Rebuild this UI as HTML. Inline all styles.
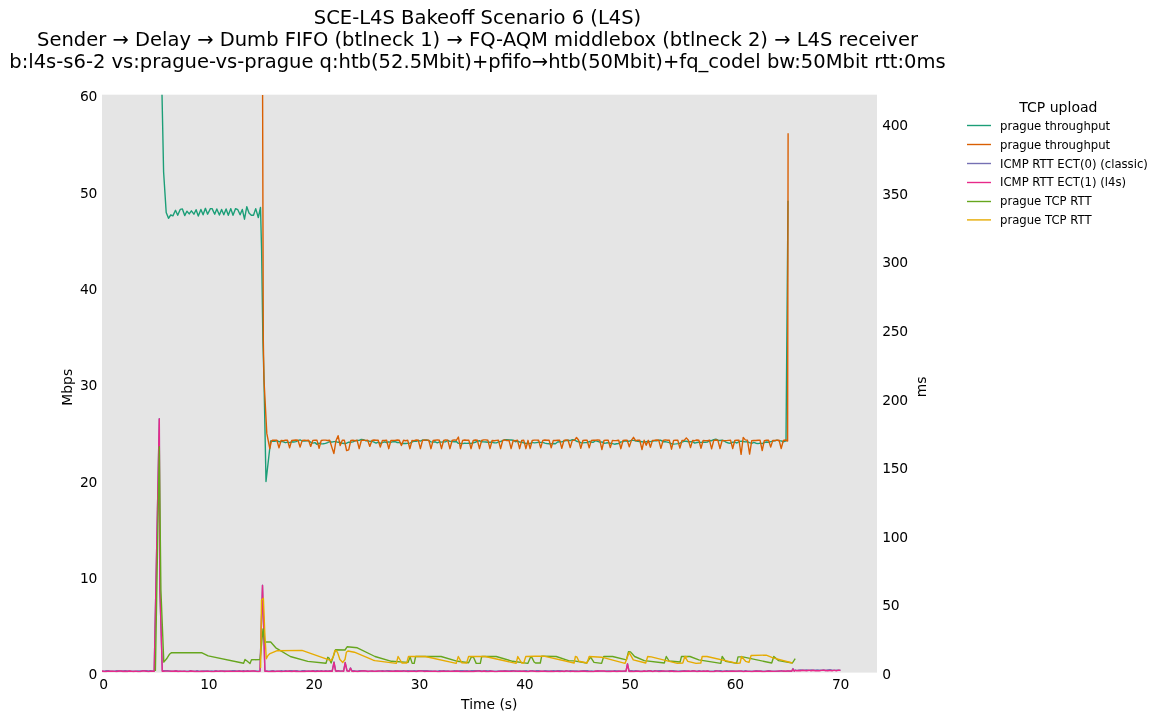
<!DOCTYPE html>
<html lang="en"><head><meta charset="utf-8"><title>SCE-L4S Bakeoff Scenario 6 (L4S)</title>
<style>
html,body{margin:0;padding:0;background:#fff;}
body{width:1162px;height:721px;overflow:hidden;}
svg{display:block;}
svg text{font-family:"DejaVu Sans","Liberation Sans",sans-serif;fill:#000;}
</style></head><body>
<svg width="1162" height="721" viewBox="0 0 1162 721">
<rect x="0" y="0" width="1162" height="721" fill="#ffffff"/>
<rect x="102.0" y="94.7" width="775.0" height="577.9" fill="#e5e5e5"/>
<clipPath id="c"><rect x="102.0" y="94.7" width="775.0" height="577.9"/></clipPath>
<g clip-path="url(#c)" fill="none" stroke-width="1.39" stroke-linejoin="round" stroke-linecap="butt">
<path stroke="#1b9e77" d="M162.0 94.0 L163.6 172.0 L166.2 212.5 L168.5 218.3 L170.7 215.0 L172.9 215.9 L175.5 210.3 L177.7 215.3 L180.2 209.4 L182.4 208.9 L184.7 215.6 L186.9 211.2 L189.2 213.9 L191.4 210.8 L193.9 214.2 L196.1 209.7 L198.3 216.1 L200.9 209.4 L203.1 214.8 L205.4 208.3 L207.6 214.2 L210.4 208.6 L212.1 208.6 L214.7 214.2 L216.8 208.9 L219.4 215.0 L221.6 209.4 L223.8 214.8 L226.1 208.9 L228.3 215.3 L230.8 208.6 L233.0 215.3 L235.6 208.6 L237.8 209.7 L240.1 214.8 L242.3 209.4 L244.5 219.2 L246.8 206.7 L249.0 213.1 L251.3 215.3 L253.5 215.3 L255.7 208.6 L258.3 217.5 L260.5 207.5 L261.6 250.0 L262.9 340.0 L264.0 380.0 L266.0 481.5 L270.6 441.0 L272.7 441.2 L274.8 441.3 L276.9 440.6 L279.0 441.7 L281.1 441.4 L283.3 441.9 L285.4 442.7 L287.5 442.1 L289.6 442.7 L291.7 441.8 L293.8 442.0 L295.9 441.6 L298.0 440.7 L300.1 439.9 L302.2 441.0 L304.4 441.0 L306.5 440.9 L308.6 440.9 L310.7 442.2 L312.8 443.1 L314.9 442.6 L317.0 444.4 L319.1 443.2 L321.2 443.9 L323.3 443.8 L325.5 443.4 L327.6 442.6 L329.7 441.5 L331.8 442.2 L333.9 441.6 L336.0 441.6 L338.1 442.3 L340.2 442.3 L342.3 443.3 L344.4 443.5 L346.6 443.2 L348.7 442.2 L350.8 442.2 L352.9 441.9 L355.0 440.9 L357.1 440.5 L359.2 440.4 L361.3 439.5 L363.4 439.7 L365.5 440.7 L367.7 440.7 L369.8 441.3 L371.9 441.4 L374.0 442.1 L376.1 443.1 L378.2 442.1 L380.3 443.4 L382.4 442.7 L384.5 441.8 L386.6 442.5 L388.8 441.8 L390.9 442.4 L393.0 441.6 L395.1 441.7 L397.2 442.5 L399.3 442.4 L401.4 443.7 L403.5 443.4 L405.6 443.5 L407.7 443.4 L409.9 443.1 L412.0 442.0 L414.1 441.2 L416.2 441.3 L418.3 440.5 L420.4 441.1 L422.5 440.0 L424.6 440.2 L426.7 440.0 L428.8 440.7 L431.0 441.9 L433.1 442.1 L435.2 441.8 L437.3 442.8 L439.4 441.9 L441.5 442.1 L443.6 441.9 L445.7 441.7 L447.8 440.4 L449.9 441.4 L452.1 441.5 L454.2 441.7 L456.3 441.5 L458.4 443.4 L460.5 443.4 L462.6 443.6 L464.7 443.3 L466.8 443.4 L468.9 443.1 L471.0 443.5 L473.2 442.8 L475.3 442.3 L477.4 441.1 L479.5 440.7 L481.6 441.8 L483.7 441.9 L485.8 442.0 L487.9 442.3 L490.0 442.2 L492.1 442.2 L494.3 442.7 L496.4 442.9 L498.5 441.9 L500.6 441.5 L502.7 440.7 L504.8 439.7 L506.9 439.8 L509.0 440.0 L511.1 440.0 L513.2 440.3 L515.4 441.8 L517.5 441.2 L519.6 442.0 L521.7 442.3 L523.8 442.8 L525.9 443.5 L528.0 443.4 L530.1 443.6 L532.2 442.4 L534.3 442.9 L536.5 442.6 L538.6 442.3 L540.7 442.4 L542.8 442.4 L544.9 443.1 L547.0 443.6 L549.1 443.7 L551.2 443.9 L553.3 443.5 L555.4 443.8 L557.6 442.0 L559.7 441.8 L561.8 441.9 L563.9 441.2 L566.0 440.6 L568.1 440.3 L570.2 440.6 L572.3 439.7 L574.4 439.9 L576.5 441.2 L578.7 441.7 L580.8 442.7 L582.9 442.9 L585.0 442.6 L587.1 442.6 L589.2 441.5 L591.3 442.2 L593.4 442.2 L595.5 440.6 L597.6 441.3 L599.8 442.1 L601.9 441.9 L604.0 443.2 L606.1 443.0 L608.2 442.7 L610.3 443.3 L612.4 443.6 L614.5 444.2 L616.6 443.7 L618.7 443.5 L620.9 441.9 L623.0 441.7 L625.1 440.8 L627.2 441.2 L629.3 441.2 L631.4 440.4 L633.5 440.4 L635.6 440.9 L637.7 441.3 L639.8 441.5 L642.0 441.7 L644.1 442.4 L646.2 441.7 L648.3 441.5 L650.4 441.6 L652.5 441.3 L654.6 440.7 L656.7 440.7 L658.8 440.3 L660.9 440.3 L663.1 441.7 L665.2 441.6 L667.3 442.1 L669.4 442.7 L671.5 443.8 L673.6 444.1 L675.7 443.9 L677.8 443.6 L679.9 443.2 L682.0 442.1 L684.2 441.3 L686.3 441.2 L688.4 441.7 L690.5 441.6 L692.6 441.7 L694.7 443.1 L696.8 442.5 L698.9 442.2 L701.0 442.4 L703.1 442.2 L705.3 442.2 L707.4 442.1 L709.5 440.5 L711.6 440.7 L713.7 439.6 L715.8 439.2 L717.9 440.2 L720.0 440.5 L722.1 440.1 L724.2 441.0 L726.4 442.4 L728.5 443.0 L730.6 443.2 L732.7 442.2 L734.8 442.2 L736.9 443.0 L739.0 441.7 L741.1 441.1 L743.2 441.5 L745.3 441.9 L747.5 441.8 L749.6 442.7 L751.7 443.3 L753.8 442.3 L755.9 443.2 L758.0 443.6 L760.1 443.1 L762.2 443.6 L764.3 442.5 L766.4 442.0 L768.6 442.3 L770.7 441.6 L772.8 441.1 L774.9 440.9 L777.0 440.2 L779.1 440.9 L781.2 440.9 L783.3 441.8 L785.4 441.0 L786.0 441.0 L788.0 200.7"/>
<path stroke="#d95f02" d="M262.6 95.0 L263.3 340.0 L264.0 380.0 L266.8 433.4 L269.8 448.7 L271.4 441.0 L272.7 440.2 L274.8 440.3 L276.9 440.3 L279.0 447.9 L281.1 440.4 L283.3 440.7 L285.4 440.3 L287.5 440.3 L289.6 447.9 L291.7 440.4 L293.8 440.2 L295.9 440.0 L298.0 440.3 L300.1 447.1 L302.2 440.4 L304.4 440.3 L306.5 440.5 L308.6 440.3 L310.7 446.4 L312.8 440.4 L314.9 440.3 L317.0 440.3 L319.1 448.4 L321.2 440.5 L323.3 440.1 L325.5 440.1 L327.6 440.5 L329.7 440.3 L331.8 447.1 L333.9 453.5 L336.0 440.7 L338.1 435.7 L340.2 445.6 L342.3 440.3 L344.4 440.3 L346.6 450.5 L348.7 449.9 L350.8 440.5 L352.9 440.3 L355.0 440.7 L357.1 440.3 L359.2 448.7 L361.3 440.5 L363.4 440.1 L365.5 440.4 L367.7 440.3 L369.8 446.4 L371.9 440.4 L374.0 440.0 L376.1 440.2 L378.2 440.3 L380.3 447.1 L382.4 440.4 L384.5 440.5 L386.6 440.3 L388.8 448.7 L390.9 440.5 L393.0 440.5 L395.1 440.4 L397.2 440.0 L399.3 440.3 L401.4 445.5 L403.5 440.3 L405.6 440.7 L407.7 440.3 L409.9 448.7 L412.0 440.5 L414.1 440.6 L416.2 440.0 L418.3 440.3 L420.4 448.7 L422.5 440.5 L424.6 440.0 L426.7 440.1 L428.8 440.3 L431.0 448.7 L433.1 440.5 L435.2 440.2 L437.3 439.9 L439.4 440.3 L441.5 448.7 L443.6 440.5 L445.7 439.9 L447.8 440.3 L449.9 448.7 L452.1 440.5 L454.2 439.9 L456.3 440.3 L458.4 437.0 L460.5 448.7 L462.6 440.5 L464.7 440.0 L466.8 440.2 L468.9 440.3 L471.0 448.7 L473.2 440.5 L475.3 440.0 L477.4 440.3 L479.5 448.7 L481.6 440.5 L483.7 439.9 L485.8 439.9 L487.9 440.3 L490.0 448.7 L492.1 440.5 L494.3 440.7 L496.4 440.4 L498.5 440.3 L500.6 448.7 L502.7 440.5 L504.8 439.9 L506.9 440.6 L509.0 440.3 L511.1 448.7 L513.2 440.5 L515.4 440.7 L517.5 440.3 L519.6 448.7 L521.7 440.5 L523.8 440.3 L525.9 448.7 L528.0 440.3 L530.1 448.7 L532.2 440.5 L534.3 440.1 L536.5 440.1 L538.6 440.3 L540.7 447.9 L542.8 440.4 L544.9 440.0 L547.0 440.2 L549.1 440.3 L551.2 447.9 L553.3 440.4 L555.4 440.5 L557.6 440.3 L559.7 440.3 L561.8 448.4 L563.9 440.5 L566.0 439.9 L568.1 440.3 L570.2 447.6 L572.3 440.4 L574.4 440.3 L576.5 437.5 L578.7 440.3 L580.8 448.4 L582.9 440.5 L585.0 440.2 L587.1 440.3 L589.2 447.9 L591.3 440.4 L593.4 440.2 L595.5 440.2 L597.6 439.9 L599.8 440.3 L601.9 449.5 L604.0 440.5 L606.1 440.1 L608.2 440.3 L610.3 447.6 L612.4 440.4 L614.5 440.6 L616.6 440.5 L618.7 440.3 L620.9 448.7 L623.0 440.5 L625.1 440.3 L627.2 440.3 L629.3 446.9 L631.4 440.4 L633.5 437.3 L635.6 440.7 L637.7 440.3 L639.8 440.3 L642.0 449.5 L644.1 440.3 L646.2 445.3 L648.3 440.3 L650.4 447.2 L652.5 440.4 L654.6 440.3 L656.7 440.0 L658.8 440.3 L660.9 448.4 L663.1 440.5 L665.2 439.9 L667.3 440.2 L669.4 440.3 L671.5 449.2 L673.6 440.5 L675.7 440.1 L677.8 440.3 L679.9 448.1 L682.0 440.5 L684.2 440.4 L686.3 437.9 L688.4 440.3 L690.5 447.6 L692.6 440.4 L694.7 440.7 L696.8 440.0 L698.9 440.3 L701.0 448.2 L703.1 440.5 L705.3 440.6 L707.4 440.7 L709.5 440.3 L711.6 448.8 L713.7 440.5 L715.8 440.0 L717.9 440.3 L720.0 448.5 L722.1 440.5 L724.2 440.6 L726.4 440.6 L728.5 440.4 L730.6 440.3 L732.7 448.5 L734.8 440.5 L736.9 440.1 L739.0 440.3 L741.1 454.3 L743.2 437.5 L745.3 439.9 L747.5 440.3 L749.6 454.1 L751.7 440.8 L753.8 440.4 L755.9 440.5 L758.0 440.3 L760.1 440.3 L762.2 450.5 L764.3 440.6 L766.4 440.3 L768.6 440.3 L770.7 447.1 L772.8 440.4 L774.9 440.5 L777.0 440.1 L779.1 440.3 L781.2 448.5 L783.3 440.5 L785.4 440.0 L787.6 441.0 L788.1 133.3"/>
<path stroke="#7570b3" d="M102.0 671.3 L104.1 671.3 L106.2 670.6 L108.3 670.7 L110.4 671.2 L112.5 671.1 L114.7 671.1 L116.8 670.8 L118.9 671.0 L121.0 671.0 L123.1 671.0 L125.2 670.7 L127.3 670.9 L129.4 670.9 L131.5 671.1 L133.7 671.3 L135.8 671.3 L137.9 671.0 L140.0 670.9 L142.1 670.8 L144.2 670.6 L146.3 670.6 L148.4 670.9 L150.5 670.8 L152.6 670.9 L154.2 670.9 L159.3 418.6 L159.9 589.6 L162.3 670.9 L163.2 670.6 L165.3 670.8 L167.4 670.7 L169.5 671.0 L171.6 671.3 L173.7 671.1 L175.9 670.7 L178.0 671.2 L180.1 671.2 L182.2 671.1 L184.3 671.2 L186.4 671.1 L188.5 671.2 L190.6 670.8 L192.7 671.3 L194.8 671.3 L197.0 670.7 L199.1 671.1 L201.2 671.1 L203.3 670.9 L205.4 671.0 L207.5 670.9 L209.6 671.2 L211.7 671.0 L213.8 671.2 L215.9 670.8 L218.1 671.2 L220.2 671.2 L222.3 670.9 L224.4 671.0 L226.5 671.2 L228.6 671.1 L230.7 670.9 L232.8 670.8 L234.9 670.8 L237.0 671.1 L239.2 670.7 L241.3 671.2 L243.4 670.8 L245.5 671.2 L247.6 670.8 L249.7 671.3 L251.8 671.1 L253.9 671.0 L256.0 671.0 L258.1 671.1 L260.0 670.9 L262.5 585.1 L264.9 670.9 L266.6 671.0 L268.7 671.3 L270.8 671.0 L272.9 670.7 L275.0 671.2 L277.1 671.1 L279.2 671.2 L281.4 670.7 L283.5 671.1 L285.6 670.6 L287.7 671.1 L289.8 670.8 L291.9 670.8 L294.0 671.2 L296.1 670.7 L298.2 671.0 L300.3 671.2 L302.5 670.8 L304.6 670.7 L306.7 671.2 L308.8 670.9 L310.9 671.1 L313.0 670.6 L315.1 670.9 L317.2 670.7 L319.3 671.1 L321.4 670.7 L323.6 671.3 L325.7 670.6 L327.8 671.1 L329.9 670.6 L332.2 670.9 L334.0 662.0 L335.6 670.6 L336.2 670.7 L338.3 670.7 L340.4 671.1 L342.5 670.9 L343.6 670.9 L345.2 662.4 L347.0 670.6 L349.2 670.9 L350.5 667.9 L351.9 670.9 L353.1 670.8 L355.2 671.0 L357.3 671.1 L359.4 670.7 L361.5 670.8 L363.6 670.6 L365.8 670.9 L367.9 671.1 L370.0 671.1 L372.1 671.2 L374.2 671.1 L376.3 671.2 L378.4 671.1 L380.5 670.9 L382.6 670.8 L384.7 671.1 L386.9 670.8 L389.0 670.7 L391.1 670.9 L393.2 671.2 L395.3 670.7 L397.4 671.0 L399.5 670.9 L401.6 671.0 L403.7 670.7 L405.8 671.3 L408.0 670.8 L410.1 671.0 L412.2 670.9 L414.3 670.6 L416.4 671.0 L418.5 670.7 L420.6 670.6 L422.7 670.6 L424.8 670.7 L426.9 670.7 L429.1 671.0 L431.2 671.0 L433.3 671.3 L435.4 671.3 L437.5 671.3 L439.6 670.8 L441.7 670.9 L443.8 670.8 L445.9 671.0 L448.0 671.0 L450.2 671.2 L452.3 671.1 L454.4 670.8 L456.5 670.9 L458.6 671.0 L460.7 670.6 L462.8 670.6 L464.9 670.9 L467.0 670.7 L469.1 671.1 L471.3 670.8 L473.4 670.7 L475.5 670.7 L477.6 670.8 L479.7 670.8 L481.8 671.0 L483.9 670.9 L486.0 670.8 L488.1 671.0 L490.2 670.7 L492.4 671.2 L494.5 671.3 L496.6 671.1 L498.7 670.9 L500.8 671.0 L502.9 671.0 L505.0 670.6 L507.1 670.9 L509.2 671.0 L511.3 670.7 L513.5 670.7 L515.6 671.2 L517.7 670.9 L519.8 671.0 L521.9 671.2 L524.0 671.0 L526.1 670.8 L528.2 671.3 L530.3 670.9 L532.4 670.6 L534.6 671.1 L536.7 670.7 L538.8 670.8 L540.9 671.2 L543.0 671.1 L545.1 670.6 L547.2 670.9 L549.3 670.9 L551.4 670.9 L553.5 670.7 L555.7 671.0 L557.8 670.7 L559.9 670.8 L562.0 670.9 L564.1 671.3 L566.2 670.7 L568.3 671.1 L570.4 670.7 L572.5 671.0 L574.6 670.9 L576.8 670.9 L578.9 671.1 L581.0 670.9 L583.1 670.7 L585.2 670.7 L587.3 670.7 L589.4 671.2 L591.5 671.0 L593.6 671.3 L595.7 671.1 L597.9 670.6 L600.0 671.1 L602.1 671.1 L604.2 671.1 L606.3 670.9 L608.4 670.9 L610.5 670.9 L612.6 671.2 L614.7 670.8 L616.8 671.0 L619.0 670.9 L621.1 671.3 L623.2 671.2 L625.3 671.3 L626.0 670.9 L627.5 663.6 L629.0 670.9 L629.5 670.8 L631.6 670.8 L633.7 670.9 L635.8 670.8 L637.9 670.9 L640.1 671.1 L642.2 671.2 L644.3 671.0 L646.4 671.2 L648.5 670.7 L650.6 670.8 L652.7 671.3 L654.8 670.7 L656.9 670.9 L659.0 670.6 L661.2 670.7 L663.3 671.2 L665.4 671.3 L667.5 671.1 L669.6 670.7 L671.7 670.8 L673.8 670.8 L675.9 671.1 L678.0 671.1 L680.1 670.9 L682.3 671.0 L684.4 670.7 L686.5 671.0 L688.6 671.3 L690.7 671.1 L692.8 670.7 L694.9 671.0 L697.0 671.1 L699.1 670.8 L701.2 671.2 L703.4 670.9 L705.5 671.1 L707.6 670.9 L709.7 671.3 L711.8 671.1 L713.9 671.0 L716.0 670.7 L718.1 670.9 L720.2 670.6 L722.3 671.0 L724.5 671.2 L726.6 670.7 L728.7 671.0 L730.8 670.9 L732.9 670.9 L735.0 671.1 L737.1 671.3 L739.2 671.1 L741.3 670.9 L743.4 671.3 L745.6 670.8 L747.7 671.1 L749.8 671.1 L751.9 671.1 L754.0 671.2 L756.1 670.8 L758.2 671.0 L760.3 670.9 L762.4 671.1 L764.5 671.3 L766.7 671.0 L768.8 670.6 L770.9 670.9 L773.0 671.1 L775.1 671.2 L777.2 671.1 L779.3 671.2 L781.4 670.6 L783.5 671.3 L785.6 671.1 L787.8 671.0 L789.9 671.2 L791.8 670.9 L793.0 668.6 L794.2 670.9 L795.6 670.0 L796.2 670.4 L798.3 670.3 L800.4 669.9 L802.5 670.3 L804.6 670.2 L806.7 669.9 L808.9 670.4 L811.0 669.9 L813.1 670.2 L815.2 670.1 L817.3 670.0 L819.4 670.2 L821.5 670.1 L823.6 669.9 L825.7 670.5 L827.8 669.9 L830.0 669.8 L832.1 670.1 L834.2 670.4 L836.3 670.3 L838.4 670.3 L840.5 670.1"/>
<path stroke="#e7298a" d="M102.0 671.0 L104.1 671.5 L106.2 671.5 L108.3 671.1 L110.4 671.3 L112.5 671.3 L114.7 671.4 L116.8 671.5 L118.9 671.0 L121.0 671.0 L123.1 671.5 L125.2 671.3 L127.3 671.5 L129.4 671.0 L131.5 671.3 L133.7 671.5 L135.8 671.1 L137.9 671.6 L140.0 671.6 L142.1 671.0 L144.2 671.0 L146.3 671.3 L148.4 671.6 L150.5 671.2 L152.6 671.1 L154.2 671.3 L159.3 419.0 L159.9 590.0 L162.3 671.3 L163.2 671.3 L165.3 671.1 L167.4 671.1 L169.5 671.1 L171.6 671.3 L173.7 671.2 L175.9 671.0 L178.0 671.5 L180.1 671.3 L182.2 671.4 L184.3 671.1 L186.4 671.6 L188.5 671.6 L190.6 671.0 L192.7 671.2 L194.8 671.5 L197.0 671.4 L199.1 671.6 L201.2 671.2 L203.3 671.5 L205.4 671.4 L207.5 671.2 L209.6 671.4 L211.7 671.6 L213.8 671.5 L215.9 671.3 L218.1 671.4 L220.2 671.0 L222.3 671.1 L224.4 671.5 L226.5 671.2 L228.6 671.1 L230.7 671.3 L232.8 671.4 L234.9 671.4 L237.0 671.2 L239.2 671.3 L241.3 671.3 L243.4 671.5 L245.5 671.3 L247.6 671.2 L249.7 671.3 L251.8 671.0 L253.9 671.0 L256.0 671.4 L258.1 671.6 L260.0 671.3 L262.5 585.5 L264.9 671.3 L266.6 671.3 L268.7 671.6 L270.8 671.5 L272.9 671.3 L275.0 671.6 L277.1 671.1 L279.2 671.3 L281.4 671.6 L283.5 671.4 L285.6 671.3 L287.7 671.1 L289.8 671.3 L291.9 671.6 L294.0 671.0 L296.1 671.5 L298.2 671.5 L300.3 671.6 L302.5 671.5 L304.6 671.5 L306.7 671.3 L308.8 671.3 L310.9 671.2 L313.0 671.0 L315.1 671.6 L317.2 671.3 L319.3 671.1 L321.4 671.3 L323.6 671.3 L325.7 671.2 L327.8 671.2 L329.9 671.3 L332.2 671.3 L334.0 662.4 L335.6 671.0 L336.2 671.3 L338.3 671.0 L340.4 671.1 L342.5 671.1 L343.6 671.3 L345.2 662.8 L347.0 671.0 L349.2 671.3 L350.5 668.2 L351.9 671.2 L353.1 671.5 L355.2 671.1 L357.3 671.5 L359.4 671.4 L361.5 671.0 L363.6 671.0 L365.8 671.0 L367.9 671.5 L370.0 671.1 L372.1 671.0 L374.2 671.4 L376.3 671.2 L378.4 671.0 L380.5 671.1 L382.6 671.3 L384.7 671.1 L386.9 671.1 L389.0 671.4 L391.1 671.3 L393.2 671.2 L395.3 671.3 L397.4 671.0 L399.5 671.2 L401.6 671.2 L403.7 671.1 L405.8 671.0 L408.0 671.6 L410.1 671.3 L412.2 671.1 L414.3 671.4 L416.4 671.5 L418.5 671.0 L420.6 671.0 L422.7 671.1 L424.8 671.5 L426.9 671.1 L429.1 671.4 L431.2 671.4 L433.3 671.3 L435.4 671.1 L437.5 671.6 L439.6 671.5 L441.7 671.3 L443.8 671.1 L445.9 671.4 L448.0 671.2 L450.2 671.4 L452.3 671.2 L454.4 671.4 L456.5 671.0 L458.6 671.2 L460.7 671.6 L462.8 671.6 L464.9 671.2 L467.0 671.6 L469.1 671.2 L471.3 671.6 L473.4 671.5 L475.5 671.2 L477.6 671.1 L479.7 671.0 L481.8 671.6 L483.9 671.0 L486.0 671.5 L488.1 671.6 L490.2 671.3 L492.4 671.1 L494.5 671.6 L496.6 671.6 L498.7 671.4 L500.8 671.3 L502.9 671.2 L505.0 671.2 L507.1 671.1 L509.2 671.4 L511.3 671.3 L513.5 671.1 L515.6 671.0 L517.7 671.4 L519.8 671.2 L521.9 671.3 L524.0 671.2 L526.1 671.6 L528.2 671.6 L530.3 671.0 L532.4 671.1 L534.6 671.2 L536.7 671.6 L538.8 671.5 L540.9 671.2 L543.0 671.1 L545.1 671.4 L547.2 671.5 L549.3 671.6 L551.4 671.2 L553.5 671.6 L555.7 671.4 L557.8 671.3 L559.9 671.6 L562.0 671.1 L564.1 671.5 L566.2 671.0 L568.3 671.1 L570.4 671.6 L572.5 671.1 L574.6 671.5 L576.8 671.4 L578.9 671.5 L581.0 671.2 L583.1 671.2 L585.2 671.2 L587.3 671.6 L589.4 671.4 L591.5 671.6 L593.6 671.6 L595.7 671.0 L597.9 671.3 L600.0 671.0 L602.1 671.0 L604.2 671.0 L606.3 671.6 L608.4 671.5 L610.5 671.5 L612.6 671.2 L614.7 671.4 L616.8 671.5 L619.0 671.2 L621.1 671.3 L623.2 671.1 L625.3 671.0 L626.0 671.3 L627.5 664.0 L629.0 671.3 L629.5 671.6 L631.6 671.3 L633.7 671.6 L635.8 671.3 L637.9 671.1 L640.1 671.5 L642.2 671.5 L644.3 671.0 L646.4 671.4 L648.5 671.0 L650.6 671.0 L652.7 671.6 L654.8 671.0 L656.9 671.1 L659.0 671.6 L661.2 671.2 L663.3 671.0 L665.4 671.1 L667.5 671.1 L669.6 671.5 L671.7 671.0 L673.8 671.6 L675.9 671.2 L678.0 671.6 L680.1 671.6 L682.3 671.2 L684.4 671.1 L686.5 671.3 L688.6 671.0 L690.7 671.4 L692.8 671.0 L694.9 671.0 L697.0 671.6 L699.1 671.2 L701.2 671.4 L703.4 671.3 L705.5 671.2 L707.6 671.0 L709.7 671.6 L711.8 671.6 L713.9 671.6 L716.0 671.0 L718.1 671.1 L720.2 671.4 L722.3 671.6 L724.5 671.3 L726.6 671.4 L728.7 671.4 L730.8 671.1 L732.9 671.3 L735.0 671.2 L737.1 671.1 L739.2 671.0 L741.3 671.1 L743.4 671.6 L745.6 671.3 L747.7 671.4 L749.8 671.4 L751.9 671.6 L754.0 671.2 L756.1 671.2 L758.2 671.2 L760.3 671.2 L762.4 671.5 L764.5 671.6 L766.7 671.2 L768.8 671.2 L770.9 671.3 L773.0 671.4 L775.1 671.4 L777.2 671.1 L779.3 671.0 L781.4 671.1 L783.5 671.0 L785.6 671.3 L787.8 671.0 L789.9 671.0 L791.8 671.3 L793.0 669.0 L794.2 671.2 L795.6 670.4 L796.2 670.7 L798.3 670.5 L800.4 670.8 L802.5 670.3 L804.6 670.5 L806.7 670.7 L808.9 670.2 L811.0 670.8 L813.1 670.3 L815.2 670.7 L817.3 670.8 L819.4 670.7 L821.5 670.4 L823.6 670.2 L825.7 670.5 L827.8 670.8 L830.0 670.4 L832.1 670.8 L834.2 670.2 L836.3 670.8 L838.4 670.2 L840.5 670.4"/>
<path stroke="#66a61e" d="M155.4 671.0 L159.3 446.6 L160.9 590.0 L163.8 662.1 L166.6 658.8 L169.4 654.3 L171.6 652.6 L202.0 652.8 L208.2 655.9 L243.6 663.2 L245.0 659.5 L247.0 661.0 L250.0 663.5 L251.5 659.8 L260.0 659.5 L261.5 645.0 L263.0 628.9 L264.9 642.7 L266.3 642.0 L270.7 642.0 L275.8 647.8 L290.3 656.5 L307.8 661.4 L326.0 663.2 L327.8 657.3 L329.0 658.0 L331.1 663.1 L335.5 649.7 L345.0 650.0 L347.1 646.8 L357.3 647.8 L375.0 656.5 L391.5 661.3 L408.0 662.4 L410.1 656.9 L412.2 663.4 L414.2 663.4 L415.6 656.5 L441.1 656.5 L457.6 661.3 L468.6 662.7 L471.4 656.9 L473.5 657.2 L476.2 663.4 L480.3 663.4 L481.7 656.5 L496.2 656.5 L512.7 661.3 L527.8 663.4 L530.6 656.9 L532.1 657.9 L534.1 662.0 L535.5 663.0 L540.3 663.0 L541.7 656.1 L556.2 656.5 L568.6 660.6 L574.1 660.9 L586.5 663.0 L590.6 657.2 L594.0 662.4 L601.6 663.4 L603.7 656.5 L612.6 656.5 L626.4 659.9 L628.5 651.7 L630.5 651.9 L634.6 656.5 L644.3 660.6 L664.3 663.0 L666.3 656.5 L669.1 661.0 L680.1 662.0 L681.5 656.5 L690.0 656.5 L698.8 659.9 L720.8 663.4 L722.2 656.5 L725.6 661.3 L736.6 663.4 L738.0 656.9 L742.8 656.9 L771.7 663.0 L773.8 656.5 L778.6 660.6 L792.4 663.0 L795.2 658.6"/>
<path stroke="#e6ab02" d="M260.6 668.0 L261.5 600.0 L263.4 598.3 L264.8 633.0 L266.3 658.7 L268.0 655.5 L270.0 653.6 L277.2 650.7 L302.0 650.4 L331.1 660.6 L333.3 656.5 L334.8 650.7 L336.2 650.4 L337.7 652.9 L339.9 659.5 L342.8 662.4 L345.0 659.5 L346.4 652.2 L347.9 651.0 L354.4 652.2 L373.3 660.2 L375.0 660.6 L396.3 663.4 L398.1 656.5 L401.9 663.0 L406.7 663.0 L408.5 656.5 L425.3 656.5 L456.2 663.4 L458.3 656.5 L461.7 662.7 L466.6 663.0 L468.6 656.5 L485.2 656.5 L516.1 663.4 L517.8 656.5 L521.6 663.0 L523.7 663.0 L525.8 656.5 L535.0 656.2 L543.8 656.1 L574.1 663.0 L575.4 656.5 L576.8 656.9 L578.9 661.3 L587.1 663.0 L589.2 656.5 L601.6 657.2 L625.0 663.4 L629.1 652.4 L633.3 659.9 L645.7 663.0 L647.7 656.5 L651.2 656.9 L677.3 663.4 L682.8 663.0 L684.9 656.5 L687.0 656.9 L685.0 656.9 L687.8 661.3 L696.0 663.4 L700.8 663.0 L702.2 656.5 L707.0 656.5 L737.3 663.4 L740.1 663.0 L741.5 656.5 L745.6 661.3 L749.0 662.4 L751.1 655.5 L766.2 655.1 L773.1 657.9 L792.4 663.0"/>
</g>
<g class="t" font-size="19.52" text-anchor="middle">
<text x="477.5" y="23.7">SCE-L4S Bakeoff Scenario 6 (L4S)</text>
<text x="477.5" y="45.8">Sender → Delay → Dumb FIFO (btlneck 1) → FQ-AQM middlebox (btlneck 2) → L4S receiver</text>
<text x="477.5" y="67.9">b:l4s-s6-2 vs:prague-vs-prague q:htb(52.5Mbit)+pfifo→htb(50Mbit)+fq_codel bw:50Mbit rtt:0ms</text>
</g>
<g font-size="13.89" letter-spacing="-0.3">
<text x="97" y="679.2" text-anchor="end">0</text>
<text x="97" y="582.9" text-anchor="end">10</text>
<text x="97" y="486.5" text-anchor="end">20</text>
<text x="97" y="390.2" text-anchor="end">30</text>
<text x="97" y="293.8" text-anchor="end">40</text>
<text x="97" y="197.5" text-anchor="end">50</text>
<text x="97" y="101.1" text-anchor="end">60</text>
<text x="103.5" y="688.6" text-anchor="middle">0</text>
<text x="208.8" y="688.6" text-anchor="middle">10</text>
<text x="314.1" y="688.6" text-anchor="middle">20</text>
<text x="419.4" y="688.6" text-anchor="middle">30</text>
<text x="524.7" y="688.6" text-anchor="middle">40</text>
<text x="630.0" y="688.6" text-anchor="middle">50</text>
<text x="735.2" y="688.6" text-anchor="middle">60</text>
<text x="840.5" y="688.6" text-anchor="middle">70</text>
<text x="882.3" y="679.0" text-anchor="start">0</text>
<text x="882.3" y="610.4" text-anchor="start">50</text>
<text x="882.3" y="541.8" text-anchor="start">100</text>
<text x="882.3" y="473.1" text-anchor="start">150</text>
<text x="882.3" y="404.5" text-anchor="start">200</text>
<text x="882.3" y="335.9" text-anchor="start">250</text>
<text x="882.3" y="267.3" text-anchor="start">300</text>
<text x="882.3" y="198.7" text-anchor="start">350</text>
<text x="882.3" y="130.0" text-anchor="start">400</text>
</g>
<g font-size="13.89">
<text x="489.3" y="708.7" text-anchor="middle">Time (s)</text>
<text transform="translate(72,387.3) rotate(-90)" text-anchor="middle">Mbps</text>
<text transform="translate(926.1,386.8) rotate(-90)" text-anchor="middle">ms</text>
</g>
<text x="1058.4" y="111.8" font-size="14.0" text-anchor="middle">TCP upload</text>
<g font-size="11.66">
<line x1="967" x2="991" y1="125.5" y2="125.5" stroke="#1b9e77" stroke-width="1.39"/>
<text x="1000" y="129.8">prague throughput</text>
<line x1="967" x2="991" y1="144.5" y2="144.5" stroke="#d95f02" stroke-width="1.39"/>
<text x="1000" y="148.7">prague throughput</text>
<line x1="967" x2="991" y1="163.5" y2="163.5" stroke="#7570b3" stroke-width="1.39"/>
<text x="1000" y="167.5">ICMP RTT ECT(0) (classic)</text>
<line x1="967" x2="991" y1="182.5" y2="182.5" stroke="#e7298a" stroke-width="1.39"/>
<text x="1000" y="186.4">ICMP RTT ECT(1) (l4s)</text>
<line x1="967" x2="991" y1="201.5" y2="201.5" stroke="#66a61e" stroke-width="1.39"/>
<text x="1000" y="205.2">prague TCP RTT</text>
<line x1="967" x2="991" y1="219.9" y2="219.9" stroke="#e6ab02" stroke-width="1.39"/>
<text x="1000" y="224.1">prague TCP RTT</text>
</g>
</svg>
</body></html>
